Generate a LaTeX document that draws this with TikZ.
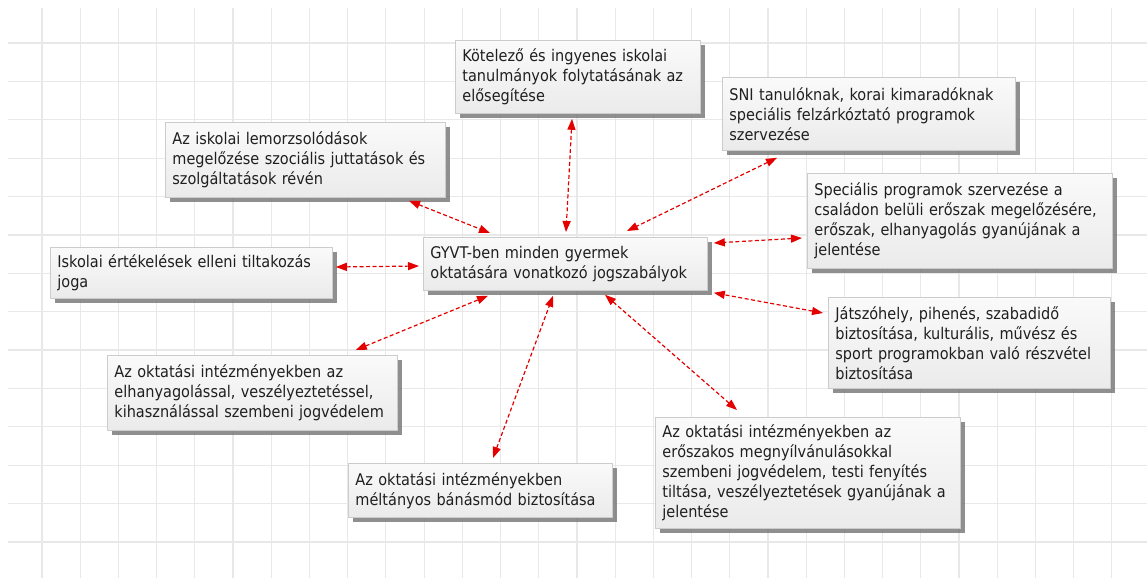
\documentclass[tikz,border=0pt]{standalone}
\usepackage{fontspec}
\setmainfont{DejaVu Sans Condensed}
\usetikzlibrary{calc,arrows.meta,shadows}

\tikzset{
    doboz/.style={draw=black!20, line width=0.8pt, top color=white!98!black, bottom color=black!8,
        drop shadow={shadow xshift=5pt, shadow yshift=-5pt, fill=black!55, opacity=0.8},
        anchor=north west, align=left, inner xsep=7pt, inner ysep=0pt,
        text=black!88, font=\fontsize{16.1}{20}\selectfont},
    link/.style={draw=red!90!black, line width=1.2pt, dash pattern=on 4pt off 2.5pt,
        {Triangle[length=11pt,width=8pt]}-{Triangle[length=11pt,width=8pt]}},
    racs/.style={draw=black!9, line width=1.2pt}
}

\begin{document}
\begin{tikzpicture}[x=1pt,y=-1pt]
            \useasboundingbox[fill=white](0,0)rectangle(1147,578);
            %rács
            \foreach \k in {0,...,13}
                \path[racs](8,43+38.38*\k)to(1147,43+38.38*\k);
            \foreach \k in {0,...,28}
                \path[racs](42+38.21*\k,8)to(42+38.21*\k,578);
            %középső doboz
            \node[doboz,text width=270pt,minimum height=53pt](ctr)at(423,237){GYVT-ben minden gyermek\\oktatására vonatkozó jogszabályok};
            %körülötte
            \node[doboz,text width=231pt,minimum height=73pt](duty)at(455,40){Kötelező és ingyenes iskolai\\tanulmányok folytatásának az\\elősegítése};
            \node[doboz,text width=279pt,minimum height=73pt](sni)at(722,77){SNI tanulóknak, korai kimaradóknak\\speciális felzárkóztató programok\\szervezése};
            \node[doboz,text width=266pt,minimum height=75pt](lemo)at(165,122){Az iskolai lemorzsolódások\\megelőzése szociális juttatások és\\szolgáltatások révén};
            \node[doboz,text width=291pt,minimum height=95pt](spec)at(807,173){Speciális programok szervezése a\\családon belüli erőszak megelőzésére,\\erőszak, elhanyagolás gyanújának a\\jelentése};
            \node[doboz,text width=268pt,minimum height=51pt](ert)at(50,247){Iskolai értékelések elleni tiltakozás\\joga};
            \node[doboz,text width=268pt,minimum height=91pt](jatek)at(828,297){Játszóhely, pihenés, szabadidő\\biztosítása, kulturális, művész és\\sport programokban való részvétel\\biztosítása};
            \node[doboz,text width=276pt,minimum height=75pt](elhany)at(107,355){Az oktatási intézményekben az\\elhanyagolással, veszélyeztetéssel,\\kihasználással szembeni jogvédelem};
            \node[doboz,text width=250pt,minimum height=54pt](melt)at(348,463){Az oktatási intézményekben\\méltányos bánásmód biztosítása};
            \node[doboz,text width=291pt,minimum height=111pt](ersz)at(655,417){Az oktatási intézményekben az\\erőszakos megnyílvánulásokkal\\szembeni jogvédelem, testi fenyítés\\tiltása, veszélyeztetések gyanújának a\\jelentése};
            %nyilak
            \path[link]($(lemo.south west)+(244,3)$)to($(ctr.north west)+(67,-4)$);
            \path[link]($(duty.south west)+(117,5)$)to($(ctr.north west)+(143,-5)$);
            \path[link]($(sni.south west)+(55,7)$)to($(ctr.north west)+(204,-6)$);
            \path[link]($(spec.north west)+(-5,65)$)to($(ctr.north east)+(6,6)$);
            \path[link]($(ert.north east)+(3,20)$)to($(ctr.north west)+(-4,29)$);
            \path[link]($(jatek.north west)+(-5,16)$)to($(ctr.south east)+(6,2)$);
            \path[link]($(elhany.north east)+(-42,-5)$)to($(ctr.south west)+(65,5)$);
            \path[link]($(melt.north west)+(145,-5)$)to($(ctr.south west)+(130,5)$);
            \path[link]($(ersz.north west)+(82,-7)$)to($(ctr.south west)+(182,4)$);
        \end{tikzpicture}
\end{document}
